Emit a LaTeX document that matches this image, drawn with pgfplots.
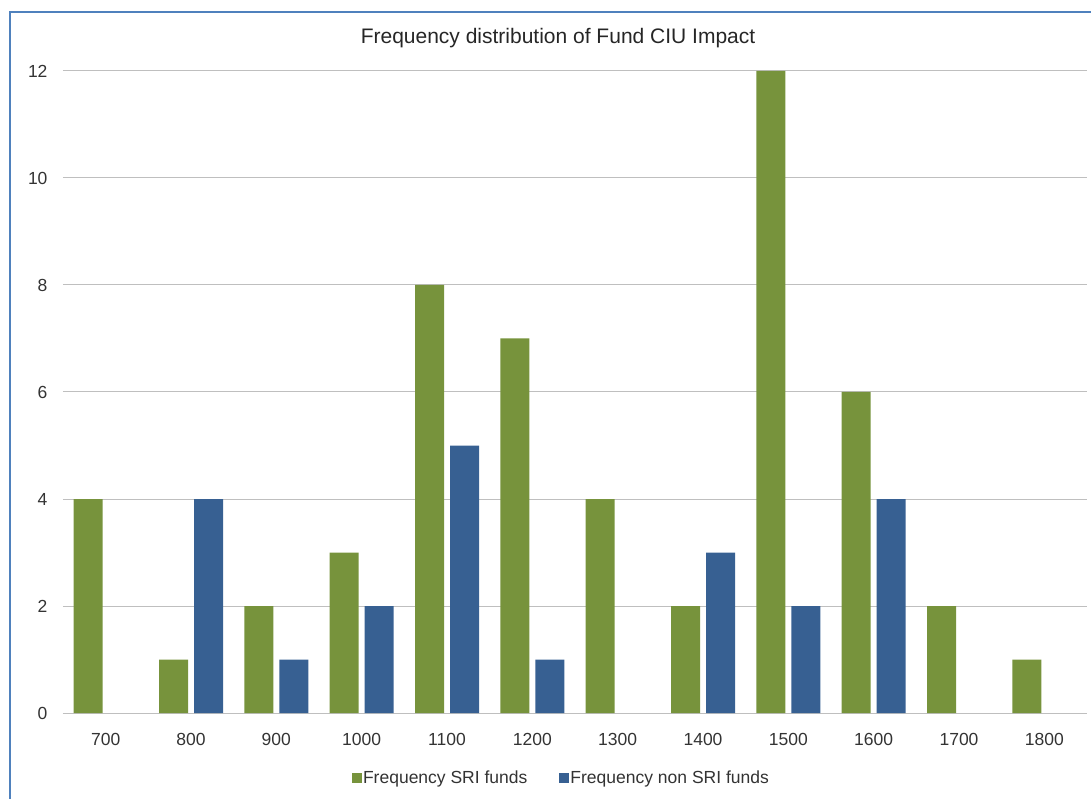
\documentclass[border=0pt]{standalone}
\usepackage{pgfplots}
\pgfplotsset{compat=1.18}
\usepackage{fontspec}
\setmainfont{Liberation Sans}
\definecolor{sri}{HTML}{77933C}
\definecolor{nonsri}{HTML}{376092}
\definecolor{framec}{HTML}{4F81BD}
\definecolor{gridc}{HTML}{BFBFBF}
\definecolor{txt}{HTML}{333333}
\begin{document}
\begin{tikzpicture}
\begin{axis}[
  at={(0pt,0pt)}, anchor=south west,
  scale only axis, width=1024pt, height=642pt,
  ybar=6pt, bar width=29pt,
  xmin=-0.5, xmax=11.5, ymin=0, ymax=12,
  xtick={0,...,11},
  xticklabels={700,800,900,1000,1100,1200,1300,1400,1500,1600,1700,1800},
  ytick={0,2,...,12},
  ymajorgrids, grid style={gridc, line width=1pt},
  axis x line*=bottom, axis y line*=left,
  x axis line style={gridc, line width=1pt, -},
  y axis line style={draw=none},
  major tick length=0pt,
  /pgf/number format/assume math mode=true,
  tick label style={font=\fontsize{17.5}{21}\selectfont, text=txt},
  xticklabel style={anchor=north, yshift=-17pt},
  yticklabel style={anchor=east, xshift=-12pt},
  legend columns=2,
  legend style={draw=none, at={(0.4863,-0.1012)}, anchor=center,
    font=\fontsize{17.5}{21}\selectfont, text=txt,
    /tikz/every even column/.append style={column sep=30pt},
    inner sep=0pt, nodes={inner sep=1.5pt}},
  legend image code/.code={\fill[#1,draw=none] (0pt,-5pt) rectangle (10pt,5pt);},
]
\addplot[fill=sri, draw=none] coordinates {(0,4) (1,1) (2,2) (3,3) (4,8) (5,7) (6,4) (7,2) (8,12) (9,6) (10,2) (11,1)};
\addplot[fill=nonsri, draw=none] coordinates {(1,4) (2,1) (3,2) (4,5) (5,1) (7,3) (8,2) (9,4)};
\legend{Frequency SRI funds, Frequency non SRI funds}
\end{axis}
\node[font=\fontsize{21}{25}\selectfont, text=black!85] at (495pt,675pt) {Frequency distribution of Fund CIU Impact};
\draw[framec, line width=2pt] (-53pt,-90pt) -- (-53pt,701pt) -- (1035pt,701pt);
\pgfresetboundingbox
\path[use as bounding box] (-63pt,-85pt) rectangle (1028pt,713pt);
\end{tikzpicture}
\end{document}
